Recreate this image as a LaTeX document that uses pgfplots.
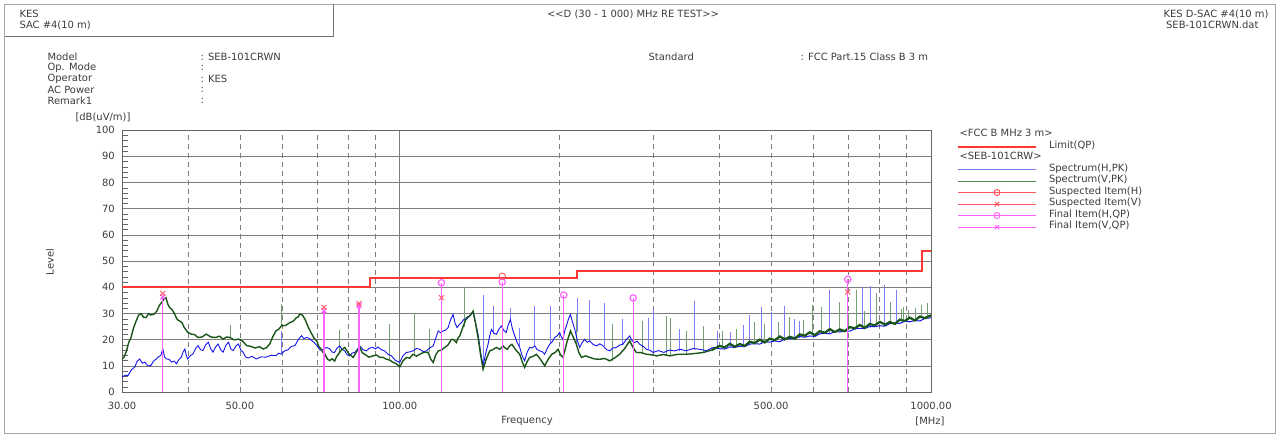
\documentclass[border=0pt]{standalone}
\usepackage{fontspec}
\setmainfont{DejaVu Sans}[Ligatures=TeXOff]
\usepackage{pgfplots}
\pgfplotsset{compat=1.18}

\definecolor{limred}{RGB}{255,55,55}
\definecolor{specblue}{RGB}{20,20,235}
\definecolor{specgreen}{RGB}{25,85,25}
\definecolor{spikeblue}{RGB}{125,125,250}
\definecolor{spikegreen}{RGB}{115,160,115}
\definecolor{legblue}{RGB}{120,120,255}
\definecolor{leggreen}{RGB}{80,140,80}
\definecolor{suspc}{RGB}{255,85,95}
\definecolor{finalc}{RGB}{255,100,255}
\definecolor{gridc}{RGB}{125,125,125}
\definecolor{txt}{RGB}{60,60,60}

\begin{document}
\fontsize{10}{12}\selectfont
\begin{tikzpicture}
% page frame and header text, in pixel units (y downwards)
\begin{scope}[x=1bp,y=-1bp,text=txt]
\path[use as bounding box] (0,0) rectangle (1279,437);
\draw[black!35] (4.5,4.5) rectangle (1275.5,433.5);
\draw[black!55] (4.5,36.5) -- (333.5,36.5) -- (333.5,4.5);
\node[anchor=west] at (16,14) {KES};
\node[anchor=west] at (16,25) {SAC \#4(10 m)};
\node at (633,14) {<<D (30 - 1 000) MHz RE TEST>>};
\node[anchor=east] at (1272,14) {KES D-SAC \#4(10 m)};
\node[anchor=east] at (1262,25) {SEB-101CRWN.dat};
\node[anchor=west] at (44,57) {Model};
\node[anchor=west] at (44,68) {Op. Mode};
\node[anchor=west] at (44,79) {Operator};
\node[anchor=west] at (44,90) {AC Power};
\node[anchor=west] at (44,101) {Remark1};
\node[anchor=west] at (197,57) {: SEB-101CRWN};
\node[anchor=west] at (197,68) {:};
\node[anchor=west] at (197,79) {: KES};
\node[anchor=west] at (197,90) {:};
\node[anchor=west] at (197,101) {:};
\node[anchor=west] at (645,57) {Standard};
\node[anchor=west] at (797,57) {: FCC Part.15 Class B 3 m};
\node[anchor=west] at (72,117) {[dB(uV/m)]};
\node[rotate=90] at (50,262) {Level};
\node at (527,421) {Frequency};
\node at (930,421) {[MHz]};
\end{scope}

\begin{axis}[
    at={(122bp,-392bp)}, anchor=south west,
    scale only axis, width=809bp, height=262bp,
    xmode=log, xmin=30, xmax=1000, ymin=0, ymax=100,
    axis line style={black!60},
    xtick={100}, xticklabels={100.00},
    extra x ticks={30,50,500,1000},
    extra x tick labels={30.00,50.00,500.00,1000.00},
    extra x tick style={grid=none},
    minor xtick={40,50,60,70,80,90,200,300,400,500,600,700,800,900},
    xtick style={draw=none},
    ytick={0,10,...,100}, minor y tick num=4,
    ytick pos=left,
    major tick length=0pt, minor tick length=6bp,
    minor tick style={black!60},
    xmajorgrids, xminorgrids, ymajorgrids,
    major grid style={gridc, line width=0.6bp},
    minor grid style={gridc, line width=0.6bp, dash pattern=on 5bp off 4bp},
    /pgf/number format/assume math mode=true,
    tick label style={font=\fontsize{10}{12}\selectfont, text=txt},
    yticklabel style={inner sep=0pt, xshift=-7bp},
    xticklabel style={inner sep=0pt, yshift=-10bp},
    legend style={at={(1,1)}, anchor=north west, xshift=26bp, yshift=0.7bp,
        draw=none, fill=none, inner sep=0pt, outer sep=0pt, row sep=0pt,
        font=\fontsize{10}{12}\selectfont, text=txt,
        nodes={inner sep=0pt, outer sep=0pt, text height=7.5bp, text depth=4bp},
        /tikz/every odd column/.append style={column sep=12bp}},
    legend cell align=left,
    legend image code/.code={\draw[mark repeat=2,mark phase=2,#1]
        plot coordinates {(0bp,0bp) (39bp,0bp) (78bp,0bp)};},
]
% thin spikes, vertical polarisation
\addplot[spikegreen, line width=0.8bp, unbounded coords=jump, forget plot] table {
f L
47.9 20.8
47.9 25.5
47.9 nan
59.9 25.3
59.9 33.5
59.9 nan
77.0 14.4
77.0 23.5
77.0 nan
84.0 17.0
84.0 30.0
84.0 nan
95.8 12.5
95.8 26.0
95.8 nan
106.7 14.4
106.7 30.0
106.7 nan
113.9 15.1
113.9 24.0
113.9 nan
132.2 25.0
132.2 40.0
132.2 nan
215.0 18.2
215.0 30.0
215.0 nan
251.8 12.0
251.8 26.0
251.8 nan
285.7 15.0
285.7 27.0
285.7 nan
317.7 14.0
317.7 29.0
317.7 nan
323.7 14.0
323.7 28.4
323.7 nan
346 14.4
346 23.3
346 nan
373 15.1
373 25.2
373 nan
404 17.0
404 23.3
404 nan
430 17.8
430 24.0
430 nan
466 18.9
466 26.8
466 nan
485 19.5
485 26.0
485 nan
515 20.3
515 26.8
515 nan
542 20.9
542 28.7
542 nan
575 21.6
575 27.5
575 nan
599 22.2
599 33.1
599 nan
623 22.7
623 32.5
623 nan
671 23.7
671 34.4
671 nan
700 24.2
700 30.0
700 nan
725 24.6
725 38.8
725 nan
750 25.1
750 31.0
750 nan
790 25.8
790 37.6
790 nan
837 26.5
837 34.4
837 nan
880 27.2
880 31.5
880 nan
886 27.3
886 32.5
886 nan
905 27.6
905 31.2
905 nan
935 27.9
935 32.0
935 nan
961 28.3
961 33.1
961 nan
984 28.6
984 34.0
984 nan
};
% thin spikes, horizontal polarisation
\addplot[spikeblue, line width=0.8bp, unbounded coords=jump, forget plot] table {
f L
59.8 14.5
59.8 23.4
59.8 nan
71.8 16.4
71.8 22.7
71.8 nan
143.5 10.0
143.5 37.0
143.5 nan
149.8 22.0
149.8 33.0
149.8 nan
161.5 27.7
161.5 32.2
161.5 nan
168.2 17.0
168.2 24.6
168.2 nan
179.5 17.6
179.5 32.8
179.5 nan
192 18.2
192 32.8
192 nan
215.6 23.0
215.6 36.0
215.6 nan
227.8 19.5
227.8 35.0
227.8 nan
242.5 17.6
242.5 34.1
242.5 nan
262.9 18.2
262.9 27.7
262.9 nan
293.3 16.3
293.3 28.4
293.3 nan
299.7 15.1
299.7 32.2
299.7 nan
336.5 15.7
336.5 23.9
336.5 nan
359 16.0
359 34.7
359 nan
397 17.0
397 23.3
397 nan
420 17.3
420 23.0
420 nan
442.6 17.6
442.6 25.5
442.6 nan
455.8 18.0
455.8 29.3
455.8 nan
480 18.5
480 32.5
480 nan
501 19.0
501 30.6
501 nan
529 19.5
529 32.7
529 nan
552 20.0
552 28.0
552 nan
565 20.6
565 27.0
565 nan
645 22.5
645 38.8
645 nan
695 23.5
695 33.0
695 nan
744 24.0
744 39.9
744 nan
768 24.5
768 40.4
768 nan
816 25.3
816 40.8
816 nan
862 26.0
862 38.8
862 nan
};
% Spectrum(H,PK)
\addplot[specblue, line width=0.9bp, forget plot] table {
f L
30.0 5.7
30.4 6.4
30.8 6.3
31.25 8.5
31.7 9.5
32.05 11.8
32.4 12.6
32.75 11.0
33.1 11.4
33.55 10.0
34.0 10.1
34.4 11.8
34.8 12.6
35.15 13.5
35.5 13.9
35.8 16.5
36.1 13.2
36.4 12.6
36.8 12.5
37.2 11.4
37.6 11.8
38.0 10.8
38.4 12.4
38.8 13.3
39.1 15.3
39.4 16.4
39.65 14.0
39.9 12.6
40.35 13.9
40.8 14.5
41.25 16.5
41.7 17.7
42.15 16.2
42.6 15.8
43.1 18.0
43.6 19.0
44.05 16.6
44.5 15.2
45.0 17.2
45.5 18.3
46.0 16.2
46.5 15.2
47.05 17.8
47.6 19.0
48.1 16.4
48.6 15.8
49.15 17.6
49.7 18.3
50.2 16.0
50.7 15.2
51.25 13.4
51.8 13.0
52.7 13.6
53.7 12.6
54.8 13.4
56.0 13.3
57.2 14.0
58.5 13.9
59.15 14.8
59.8 14.5
60.7 15.7
61.6 16.1
62.5 17.4
63.5 17.7
64.4 20.0
65.3 21.5
66.0 20.4
66.8 20.8
67.5 20.5
68.3 19.6
69.0 18.9
69.8 17.7
70.8 16.0
71.8 16.4
72.8 17.0
73.8 16.5
74.6 15.2
75.4 15.1
76.2 16.8
77.1 17.6
77.9 16.2
78.8 15.7
79.6 14.2
80.5 13.8
81.4 14.9
82.3 15.1
83.2 16.3
84.1 17.6
85.3 16.1
86.5 15.7
87.8 16.8
89.1 17.0
90.0 16.4
90.9 17.2
92.2 16.2
93.6 15.7
95.0 14.4
96.4 13.8
98.2 12.0
100 11.3
101.4 13.8
102.9 15.1
104.4 15.3
105.9 15.7
107.5 16.6
109.1 16.3
110.7 15.4
112.3 15.7
114.0 16.9
115.6 17.6
116.9 20.6
118.1 23.3
119.4 22.6
120.7 23.3
122.0 23.6
123.3 24.6
124.6 27.5
126.0 29.6
127.1 26.2
128.2 24.6
129.5 25.8
130.7 26.5
132.1 27.8
133.5 27.7
135.4 29.2
137.4 30.3
138.9 26.5
140.4 22.0
142.0 15.0
143.5 10.0
145.0 14.5
146.6 18.2
147.7 21.5
148.8 23.9
150.4 22.4
152.0 22.0
153.7 24.0
155.3 25.2
157.0 23.5
158.6 22.7
160.0 25.5
161.5 27.7
163.0 24.0
164.6 21.4
166.4 18.8
168.2 17.0
170.0 13.8
171.8 11.9
173.7 15.2
175.6 17.0
177.5 16.8
179.5 17.6
181.4 16.2
183.4 15.7
185.4 15.4
187.4 14.4
189.4 16.5
191.5 18.2
193.6 19.2
195.7 20.8
197.8 21.4
200.0 22.7
201.4 21.0
202.9 20.1
204.4 23.4
205.9 25.2
207.7 27.8
209.5 29.6
211.5 26.6
213.5 23.9
215.8 19.8
218.1 17.0
220.5 18.9
222.9 20.1
225.3 19.0
227.8 19.5
231.1 18.2
234.5 17.6
238.0 18.4
241.4 17.6
244.9 16.2
248.4 15.7
252.0 16.8
255.6 17.0
259.2 17.9
262.9 18.2
266.9 20.0
270.9 21.4
273.8 19.5
276.8 18.9
279.8 19.4
282.9 18.2
287.0 17.5
291.2 16.3
295.5 16.0
299.7 15.1
306.8 15.8
314 15.1
321.5 16.0
329 15.7
337.5 16.3
346 15.7
356.5 16.6
367 16.3
378 15.8
389 17.0
};
% Spectrum(H,PK), noise floor above 390 MHz
\addplot[specblue, line width=1bp, forget plot] table {
f L
389 17.0
400.2 16.5
409.0 16.4
418.0 17.2
427.2 17.0
436.5 17.5
446.1 17.3
455.8 18.3
465.8 18.4
476.0 18.3
486.5 19.2
497.1 19.0
508.0 19.5
519.2 19.2
530.6 20.2
542.2 20.4
554.1 20.3
566.2 21.2
578.6 20.9
591.3 21.4
604.3 21.2
617.5 22.2
631.1 22.4
644.9 22.2
659.0 23.1
673.4 22.9
688.2 23.4
703.3 23.2
718.7 24.1
734.4 24.3
750.5 24.2
767.0 25.1
783.8 24.9
801.0 25.3
818.5 25.1
836.5 26.1
854.8 26.3
873.5 26.2
892.7 27.0
912.2 26.8
932.2 27.3
952.6 27.1
973.5 28.1
1000 28.3
};
% Spectrum(V,PK)
\addplot[specgreen, line width=1.4bp, forget plot] table {
f L
30.0 12.6
30.3 13.4
30.6 15.8
30.9 19.0
31.2 20.8
31.55 24.6
31.9 27.1
32.25 29.4
32.6 29.9
32.95 28.5
33.3 28.4
33.65 29.9
34.0 29.4
34.45 29.7
34.9 30.9
35.25 33.0
35.6 34.1
35.95 35.4
36.3 36.0
36.6 33.5
36.9 32.2
37.3 31.4
37.7 29.7
38.1 27.7
38.5 27.1
38.9 26.5
39.3 24.6
39.9 22.8
40.5 22.1
41.1 21.9
41.7 20.8
42.45 21.0
43.2 22.1
44.1 21.0
45.0 20.8
45.75 21.3
46.5 20.2
47.2 21.0
47.9 20.8
48.8 19.9
49.7 20.2
50.6 19.4
51.5 17.7
52.45 17.4
53.4 16.8
54.4 17.3
55.4 16.4
56.15 17.0
56.9 18.3
57.7 21.2
58.5 23.4
59.2 24.0
59.9 25.3
61.0 25.4
62.1 26.5
63.0 27.0
63.9 28.4
64.35 28.6
64.8 29.7
65.55 29.4
66.3 27.8
67.3 24.6
68.3 22.1
69.05 20.4
69.8 19.5
70.4 17.4
71.0 16.5
71.65 15.1
72.3 14.5
73.05 12.6
73.8 12.0
74.6 12.7
75.4 11.8
76.0 13.4
76.6 14.4
77.7 16.1
78.8 17.0
80.2 14.6
81.7 13.2
82.9 15.4
84.1 17.0
85.0 15.0
85.9 14.4
87.5 13.3
89.1 13.8
90.4 14.1
91.7 13.2
93.0 13.2
94.4 12.5
95.7 12.2
97.1 11.3
98.5 10.8
100 9.6
101.4 11.9
102.9 13.2
104.4 12.9
105.9 14.4
107.5 13.7
109.1 14.4
111.1 15.2
113.1 15.1
114.3 12.6
115.6 11.3
116.8 14.0
118.1 15.7
119.8 16.0
121.5 17.0
123.3 18.0
125.1 20.1
126.4 19.9
127.8 18.9
128.7 20.6
129.7 21.4
131.6 25.0
133.5 28.4
135.4 29.0
137.4 30.9
138.9 26.0
140.4 20.8
142.0 14.0
143.5 8.7
145.6 12.8
147.7 15.7
149.8 16.2
152.0 17.0
154.2 16.3
156.5 17.6
157.9 16.8
159.4 16.3
161.0 17.6
162.6 18.2
165.4 16.0
168.2 14.4
170.0 11.5
171.8 9.4
173.7 11.6
175.6 13.2
178.2 13.6
180.8 14.4
184.1 12.4
187.4 10.0
190.3 12.5
193.2 14.4
195.9 15.0
198.6 16.3
200.7 14.2
202.9 13.2
206.2 18.8
209.5 23.3
212.2 20.9
215.0 18.2
217.4 15.0
219.9 13.2
223.8 13.8
227.8 13.2
232.8 12.6
237.9 12.5
243.1 12.8
248.4 11.9
253.8 13.0
259.4 14.4
265.1 16.6
270.9 19.5
274.8 17.0
278.8 15.1
285.0 15.0
291.2 14.4
297.7 14.2
304.3 13.8
313.2 14.3
322.2 13.8
334.0 14.4
346 14.4
359.5 14.7
373 15.1
386.5 16.0
};
% Spectrum(V,PK), noise floor above 390 MHz
\addplot[specgreen, line width=2.2bp, forget plot] table {
f L
386.5 16.0
400.2 17.6
409.0 17.0
418.0 18.4
427.2 17.3
436.5 18.3
446.1 17.6
455.8 19.2
465.8 18.7
476.0 20.0
486.5 18.9
497.1 20.4
508.0 19.8
519.2 21.2
530.6 20.1
542.2 21.1
554.1 20.4
566.2 22.0
578.6 21.5
591.3 22.8
604.3 21.7
617.5 23.2
631.1 22.6
644.9 24.0
659.0 22.9
673.4 23.9
688.2 23.2
703.3 24.8
718.7 24.3
734.4 25.6
750.5 24.5
767.0 26.0
783.8 25.4
801.0 26.8
818.5 25.7
836.5 26.7
854.8 26.0
873.5 27.6
892.7 27.1
912.2 28.4
932.2 27.3
952.6 28.8
973.5 28.2
1000 29.3
};
% Limit(QP)
\addplot[limred, line width=2bp, forget plot] coordinates {
(30,40) (88,40) (88,43.5) (216,43.5) (216,46) (960,46) (960,54) (1000,54)};
% Final Item(H,QP) and (V,QP) with stems
\addplot[finalc, line width=1.2bp, ycomb, mark=o, mark size=3.2bp, forget plot] coordinates {
(119.8,41.7) (155.9,42.0) (203.5,37.0) (275,35.9) (697,43.0)};
\addplot[finalc, line width=1.2bp, ycomb, mark=x, mark size=3.5bp, forget plot] coordinates {
(35.8,36.3) (72.0,31.0) (83.8,33.0)};
% Suspected Item(H) and (V)
\addplot[suspc, only marks, mark=o, mark size=3.2bp, line width=0.9bp, forget plot] coordinates {
(155.9,44.2)};
\addplot[suspc, only marks, mark=x, mark size=3.5bp, line width=0.9bp, forget plot] coordinates {
(35.8,37.6) (72.0,32.3) (83.8,33.8) (119.8,36.0) (697,38.2)};

\addlegendimage{empty legend}
\addlegendentry{\makebox[0pt][l]{\hspace{-90bp}<FCC B MHz 3 m>}}
\addlegendimage{limred, line width=2bp}
\addlegendentry{Limit(QP)}
\addlegendimage{empty legend}
\addlegendentry{\makebox[0pt][l]{\hspace{-90bp}<SEB-101CRW>}}
\addlegendimage{legblue, line width=1bp}
\addlegendentry{Spectrum(H,PK)}
\addlegendimage{leggreen, line width=1bp}
\addlegendentry{Spectrum(V,PK)}
\addlegendimage{suspc, line width=1bp, mark=o, mark size=3bp}
\addlegendentry{Suspected Item(H)}
\addlegendimage{suspc, line width=1bp, mark=x, mark size=3bp}
\addlegendentry{Suspected Item(V)}
\addlegendimage{finalc, line width=1bp, mark=o, mark size=3bp}
\addlegendentry{Final Item(H,QP)}
\addlegendimage{finalc, line width=1bp, mark=x, mark size=3bp}
\addlegendentry{Final Item(V,QP)}
\end{axis}
\end{tikzpicture}
\end{document}
